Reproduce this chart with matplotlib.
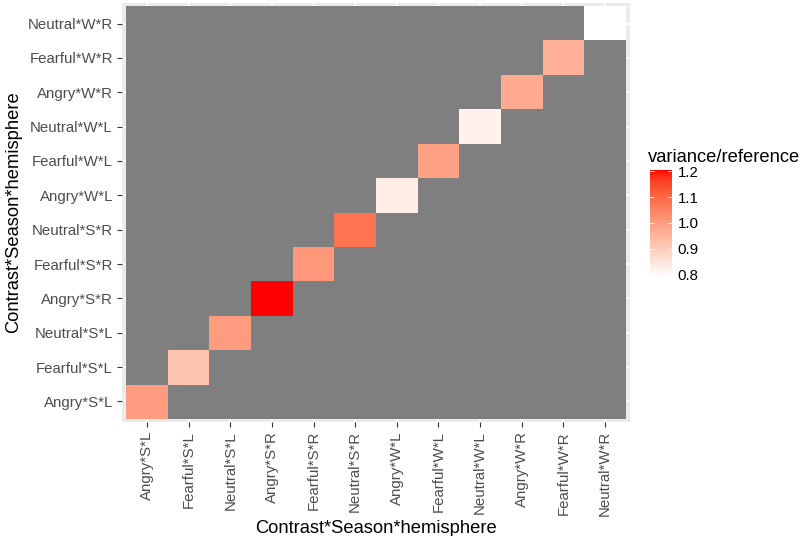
import numpy as np
import matplotlib
matplotlib.use("Agg")
import matplotlib.pyplot as plt
from matplotlib.colors import ListedColormap, Normalize

plt.rcParams["font.family"] = ["Liberation Sans", "DejaVu Sans"]

# Factor levels (contrast * season * hemisphere)
levels = ["Angry*S*L", "Fearful*S*L", "Neutral*S*L",
          "Angry*S*R", "Fearful*S*R", "Neutral*S*R",
          "Angry*W*L", "Fearful*W*L", "Neutral*W*L",
          "Angry*W*R", "Fearful*W*R", "Neutral*W*R"]

# variance / reference ratio on the diagonal
ratios = [1.00, 0.915, 1.00, 1.205, 1.01, 1.08,
          0.83, 0.99, 0.82, 0.97, 0.96, 0.79]

legend_ticks = [0.8, 0.9, 1.0, 1.1, 1.2]


def lab_to_srgb(L, a, b):
    fy = (L + 16.0) / 116.0
    fx = fy + a / 500.0
    fz = fy - b / 200.0

    def finv(t):
        t3 = t ** 3
        return np.where(t3 > 0.008856, t3, (t - 16.0 / 116.0) / 7.787)

    X = 0.95047 * finv(fx)
    Y = 1.00000 * finv(fy)
    Z = 1.08883 * finv(fz)
    r = 3.2406 * X - 1.5372 * Y - 0.4986 * Z
    g = -0.9689 * X + 1.8758 * Y + 0.0415 * Z
    bb = 0.0557 * X - 0.2040 * Y + 1.0570 * Z
    rgb = np.stack([r, g, bb], axis=-1)
    rgb = np.where(rgb > 0.0031308, 1.055 * np.clip(rgb, 0, None) ** (1 / 2.4) - 0.055, 12.92 * rgb)
    return np.clip(rgb, 0, 1)


# white -> red gradient interpolated in CIELAB
t = np.linspace(0, 1, 256)
lab_white = np.array([100.0, 0.0, 0.0])
lab_red = np.array([53.2408, 80.0925, 67.2032])
lab = lab_white[None, :] + t[:, None] * (lab_red - lab_white)[None, :]
cmap = ListedColormap(lab_to_srgb(lab[:, 0], lab[:, 1], lab[:, 2]))
cmap.set_bad("#7F7F7F")

n = len(levels)
grid = np.full((n, n), np.nan)
for i, v in enumerate(ratios):
    grid[i, i] = v
masked = np.ma.masked_invalid(grid)
norm = Normalize(vmin=min(ratios), vmax=max(ratios))

W, H = 807, 536
fig = plt.figure(figsize=(W / 100, H / 100), dpi=100)
ax = fig.add_axes([122 / W, (H - 422) / H, 508 / W, 419 / H])
ax.set_facecolor("#EBEBEB")
ax.imshow(masked, cmap=cmap, norm=norm, origin="lower", aspect="auto",
          interpolation="nearest", extent=(-0.5, n - 0.5, -0.5, n - 0.5), zorder=1)
ax.set_xlim(-0.6, n - 0.4)
ax.set_ylim(-0.6, n - 0.4)
ax.set_axisbelow(True)
ax.grid(True, color="white", linewidth=1.1, zorder=0.5)
for s in ax.spines.values():
    s.set_visible(False)

ax.set_xticks(range(n))
ax.set_yticks(range(n))
ax.set_xticklabels(levels, rotation=90, va="top", ha="center")
ax.set_yticklabels(levels)
ax.tick_params(axis="both", length=3.5, width=0.8, color="#333333",
               labelsize=10.8, labelcolor="#4D4D4D", pad=3)

ax.set_xlabel("Contrast*Season*hemisphere", fontsize=13.2, labelpad=3)
ax.set_ylabel("Contrast*Season*hemisphere", fontsize=13.2, labelpad=4)

# colour bar legend
cax = fig.add_axes([650 / W, (H - 277) / H, 22 / W, 107 / H])
gy = np.linspace(norm.vmin, norm.vmax, 300)
cax.imshow(gy[:, None], cmap=cmap, norm=norm, origin="lower", aspect="auto",
           extent=(0, 1, norm.vmin, norm.vmax))
cax.set_xlim(0, 1)
cax.set_ylim(norm.vmin, norm.vmax)
for s in cax.spines.values():
    s.set_visible(False)
cax.set_xticks([])
cax.yaxis.tick_right()
cax.set_yticks(legend_ticks)
cax.set_yticklabels([f"{v:.1f}" for v in legend_ticks])
cax.tick_params(axis="y", length=0, labelsize=10.8, labelcolor="black", pad=4)
for v in legend_ticks:
    cax.plot([0, 0.2], [v, v], color="white", lw=0.6)
    cax.plot([0.8, 1], [v, v], color="white", lw=0.6)
fig.text(648 / W, (H - 158) / H, "variance/reference", fontsize=13.2,
         ha="left", va="center")

fig.savefig("out.png", dpi=100)
